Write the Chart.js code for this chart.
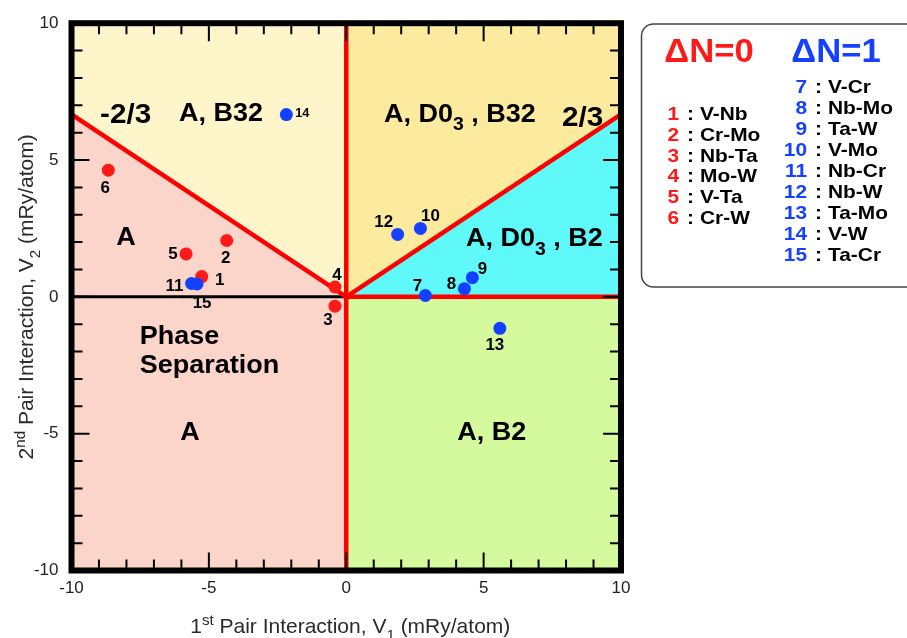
<!DOCTYPE html>
<html>
<head>
<meta charset="utf-8">
<script src="https://cdn.jsdelivr.net/npm/chart.js@4.4.1/dist/chart.umd.min.js"></script>
<style>
  html, body { margin: 0; padding: 0; background: #fff; }
  canvas { display: block; }
</style>
</head>
<body>
<canvas id="phaseMap" width="907" height="638"></canvas>
<script>
// ---- data: pair interactions (mRy/atom) of bcc binary alloys ----
// ΔN = 0 systems
const redIds   = ['1', '2', '3', '4', '5', '6'];
const redNames = ['V-Nb', 'Cr-Mo', 'Nb-Ta', 'Mo-W', 'V-Ta', 'Cr-W'];
const redV1    = [-5.26, -4.35, -0.41, -0.41, -5.83, -8.66];
const redV2    = [ 0.74,  2.06, -0.34,  0.36,  1.57,  4.63];

// ΔN = 1 systems
const blueIds   = ['7', '8', '9', '10', '11', '12', '13', '14', '15'];
const blueNames = ['V-Cr', 'Nb-Mo', 'Ta-W', 'V-Mo', 'Nb-Cr', 'Nb-W', 'Ta-Mo', 'V-W', 'Ta-Cr'];
const blueV1    = [2.88, 4.30, 4.59, 2.70, -5.63, 1.87, 5.59, -2.18, -5.43];
const blueV2    = [0.05, 0.30, 0.70, 2.50,  0.49, 2.28, -1.15, 6.66,  0.47];

// axis range and labelled ticks
const axisMin = -10, axisMax = 10;
const axisTicks = [-10, -5, 0, 5, 10];

// ground-state boundary slopes (V2 / V1)
const slopeLeft = -2 / 3;
const slopeRight = 2 / 3;

// ---- derived geometry (data space) ----
const yLeftEdge  = slopeLeft * axisMin;   // boundary height at V1 = -10
const yRightEdge = slopeRight * axisMax;  // boundary height at V1 = +10

const regions = [
  { color: '#fbd5ca', pts: [[axisMin, axisMin], [0, axisMin], [0, 0], [axisMin, yLeftEdge]] },
  { color: '#fef5cb', pts: [[axisMin, yLeftEdge], [0, 0], [0, axisMax], [axisMin, axisMax]] },
  { color: '#fcea9f', pts: [[0, 0], [axisMax, yRightEdge], [axisMax, axisMax], [0, axisMax]] },
  { color: '#5ff9f9', pts: [[0, 0], [axisMax, 0], [axisMax, yRightEdge]] },
  { color: '#d5fa9e', pts: [[0, axisMin], [axisMax, axisMin], [axisMax, 0], [0, 0]] }
];

const RED = '#ff1a1a';
const BLUE = '#1640ff';
const FONT = '"Liberation Sans", Arial, Helvetica, sans-serif';

// region captions: anchor in data space (cap-height centre), align
const regionLabels = [
  { parts: [['-2/3']], at: [-8.03, 6.70], size: 27, align: 'center', stretch: 1.1 },
  { parts: [['A, B32']], at: [-4.56, 6.77], size: 25, align: 'center', stretch: 1.08 },
  { parts: [['A, D0'], ['3', 'sub'], [' , B32']], at: [1.37, 6.71], size: 25, align: 'left', stretch: 1.08 },
  { parts: [['2/3']], at: [8.60, 6.60], size: 27, align: 'center', stretch: 1.1 },
  { parts: [['A']], at: [-8.02, 2.21], size: 25, align: 'center', stretch: 1.08 },
  { parts: [['A, D0'], ['3', 'sub'], [' , B2']], at: [4.36, 2.17], size: 25, align: 'left', stretch: 1.08 },
  { parts: [['Phase']], at: [-7.52, -1.41], size: 25, align: 'left', stretch: 1.08 },
  { parts: [['Separation']], at: [-7.52, -2.45], size: 25, align: 'left', stretch: 1.08 },
  { parts: [['A']], at: [-5.69, -4.91], size: 25, align: 'center', stretch: 1.08 },
  { parts: [['A, B2']], at: [5.30, -4.91], size: 25, align: 'center', stretch: 1.08 }
];

// placement of the number next to each marker (pixel offsets from the marker)
const idOffsets = {
  '1': [18, 3], '2': [-1, 17], '3': [-7, 13], '4': [2, -13], '5': [-13, -1], '6': [-3, 17],
  '7': [-8, -10], '8': [-13, -5], '9': [10, -9], '10': [10, -13], '11': [-17, 2],
  '12': [-14, -13], '13': [-5, 16], '14': [16, -2], '15': [5, 18]
};

const toXY = (xs, ys) => xs.map((v, i) => ({ x: v, y: ys[i] }));
const boundaryV1 = [axisMin, 0, axisMax];
const boundaryV2 = [yLeftEdge, 0, yRightEdge];

// text runs made of normal / sub / sup pieces, optionally widened horizontally
function richWidth(ctx, parts, size, weight) {
  let w = 0;
  parts.forEach(([t, kind]) => {
    const s = kind ? size * 0.72 : size;
    ctx.font = `${weight} ${s}px ${FONT}`;
    w += ctx.measureText(t).width;
  });
  return w;
}
function drawRich(ctx, parts, x, y, size, weight, align, stretch = 1) {
  const w = richWidth(ctx, parts, size, weight) * stretch;
  const x0 = align === 'center' ? x - w / 2 : (align === 'right' ? x - w : x);
  ctx.save();
  ctx.translate(x0, y);
  ctx.scale(stretch, 1);
  ctx.textAlign = 'left';
  ctx.textBaseline = 'alphabetic';
  let cx = 0;
  parts.forEach(([t, kind]) => {
    const s = kind ? size * 0.72 : size;
    ctx.font = `${weight} ${s}px ${FONT}`;
    const dy = kind === 'sub' ? size * 0.33 : (kind === 'sup' ? -size * 0.38 : 0);
    ctx.fillText(t, cx, dy);
    cx += ctx.measureText(t).width;
  });
  ctx.restore();
}

const phasePlugin = {
  id: 'phaseMap',
  beforeDatasetsDraw(chart) {
    const { ctx, scales: { x, y } } = chart;
    ctx.save();
    regions.forEach(r => {
      ctx.beginPath();
      r.pts.forEach(([a, b], i) => {
        const px = x.getPixelForValue(a), py = y.getPixelForValue(b);
        if (i) ctx.lineTo(px, py); else ctx.moveTo(px, py);
      });
      ctx.closePath();
      ctx.fillStyle = r.color;
      ctx.fill();
    });
    ctx.restore();
  },
  afterDatasetsDraw(chart) {
    const { ctx, chartArea: a, scales: { x, y } } = chart;
    ctx.save();

    // region captions
    ctx.fillStyle = '#000';
    regionLabels.forEach(l => {
      const px = x.getPixelForValue(l.at[0]);
      const py = y.getPixelForValue(l.at[1]) + l.size * 0.36;
      drawRich(ctx, l.parts, px, py, l.size, 'bold', l.align, l.stretch);
    });

    // marker numbers
    const drawIds = (ids, xs, ys) => {
      ids.forEach((id, i) => {
        const [dx, dy] = idOffsets[id];
        const size = id === '14' ? 12 : 16;
        ctx.fillStyle = '#000';
        drawRich(ctx, [[id]], x.getPixelForValue(xs[i]) + dx,
          y.getPixelForValue(ys[i]) + dy + size * 0.36, size, 'bold', 'center', 1.06);
      });
    };
    drawIds(redIds, redV1, redV2);
    drawIds(blueIds, blueV1, blueV2);

    // inward tick marks on all four sides
    ctx.strokeStyle = '#000';
    ctx.lineWidth = 2;
    for (let v = axisMin + 1; v < axisMax; v++) {
      const len = v % 5 === 0 ? 18 : 11;
      const px = x.getPixelForValue(v), py = y.getPixelForValue(v);
      ctx.beginPath();
      ctx.moveTo(px, a.bottom); ctx.lineTo(px, a.bottom - len);
      ctx.moveTo(px, a.top); ctx.lineTo(px, a.top + len);
      ctx.moveTo(a.left, py); ctx.lineTo(a.left + len, py);
      ctx.moveTo(a.right, py); ctx.lineTo(a.right - len, py);
      ctx.stroke();
    }

    // heavy frame
    ctx.lineWidth = 6;
    ctx.lineJoin = 'miter';
    ctx.strokeRect(a.left, a.top, a.right - a.left, a.bottom - a.top);
    ctx.restore();
  },
  afterDraw(chart) {
    const { ctx, chartArea: a } = chart;
    ctx.save();

    // axis titles
    ctx.fillStyle = '#2a2a2a';
    drawRich(ctx, [['1'], ['st', 'sup'], [' Pair Interaction, V'], ['1', 'sub'], [' (mRy/atom)']],
      (a.left + a.right) / 2 + 4, 633, 21, 'normal', 'center');
    ctx.save();
    ctx.translate(33, (a.top + a.bottom) / 2);
    ctx.rotate(-Math.PI / 2);
    drawRich(ctx, [['2'], ['nd', 'sup'], [' Pair Interaction, V'], ['2', 'sub'], [' (mRy/atom)']],
      0, 0, 21, 'normal', 'center');
    ctx.restore();

    // key box
    const bx = 641.5, by = 24, bw = 290, bh = 263, r = 12;
    ctx.beginPath();
    ctx.moveTo(bx + r, by);
    ctx.lineTo(bx + bw - r, by);
    ctx.arcTo(bx + bw, by, bx + bw, by + r, r);
    ctx.lineTo(bx + bw, by + bh - r);
    ctx.arcTo(bx + bw, by + bh, bx + bw - r, by + bh, r);
    ctx.lineTo(bx + r, by + bh);
    ctx.arcTo(bx, by + bh, bx, by + bh - r, r);
    ctx.lineTo(bx, by + r);
    ctx.arcTo(bx, by, bx + r, by, r);
    ctx.closePath();
    ctx.fillStyle = '#fff';
    ctx.fill();
    ctx.strokeStyle = '#444';
    ctx.lineWidth = 1.5;
    ctx.stroke();

    ctx.fillStyle = RED;
    drawRich(ctx, [['\u0394N=0']], 709, 62, 33, 'bold', 'center', 1.05);
    ctx.fillStyle = BLUE;
    drawRich(ctx, [['\u0394N=1']], 836, 62, 33, 'bold', 'center', 1.05);

    const drawKey = (ids, names, color, numRight, base0, step) => {
      ids.forEach((id, i) => {
        const yb = base0 + i * step;
        ctx.fillStyle = color;
        drawRich(ctx, [[id]], numRight, yb, 19, 'bold', 'right', 1.1);
        ctx.fillStyle = '#000';
        drawRich(ctx, [[':']], numRight + 8, yb, 19, 'bold', 'left', 1.1);
        drawRich(ctx, [[names[i]]], numRight + 21, yb, 19, 'bold', 'left', 1.1);
      });
    };
    drawKey(redIds, redNames, RED, 679, 120, 20.8);
    drawKey(blueIds, blueNames, BLUE, 807, 92.7, 21);
    ctx.restore();
  }
};

const tickFont = { family: FONT, size: 17 };

new Chart(document.getElementById('phaseMap'), {
  type: 'scatter',
  data: {
    datasets: [
      {
        label: '\u0394N=1',
        data: toXY(blueV1, blueV2),
        backgroundColor: BLUE,
        borderWidth: 0,
        pointRadius: 6.5,
        order: 0
      },
      {
        label: '\u0394N=0',
        data: toXY(redV1, redV2),
        backgroundColor: RED,
        borderWidth: 0,
        pointRadius: 6.5,
        order: 1
      },
      {
        label: 'boundary',
        data: toXY(boundaryV1, boundaryV2),
        showLine: true,
        borderColor: '#ff0000',
        borderWidth: 4.5,
        pointRadius: 0,
        fill: false,
        order: 2
      },
      {
        label: 'V1 = 0',
        data: [{ x: 0, y: axisMin }, { x: 0, y: axisMax }],
        showLine: true,
        borderColor: '#ff0000',
        borderWidth: 4.5,
        pointRadius: 0,
        fill: false,
        order: 2
      },
      {
        label: 'V2 = 0, V1 > 0',
        data: [{ x: 0, y: 0 }, { x: axisMax, y: 0 }],
        showLine: true,
        borderColor: '#ff0000',
        borderWidth: 4.5,
        pointRadius: 0,
        fill: false,
        order: 2
      },
      {
        label: 'V2 = 0, V1 < 0',
        data: [{ x: axisMin, y: 0 }, { x: 0, y: 0 }],
        showLine: true,
        borderColor: '#000',
        borderWidth: 3,
        pointRadius: 0,
        fill: false,
        order: 3
      }
    ]
  },
  options: {
    responsive: false,
    animation: false,
    devicePixelRatio: 1,
    layout: { padding: { left: 0, top: 22, right: 286, bottom: 0 } },
    plugins: { legend: { display: false }, tooltip: { enabled: false } },
    scales: {
      x: {
        type: 'linear',
        min: axisMin, max: axisMax,
        afterBuildTicks: s => { s.ticks = axisTicks.map(v => ({ value: v })); },
        ticks: { font: tickFont, color: '#222', padding: 8, maxRotation: 0 },
        grid: { display: false, drawTicks: false },
        border: { display: false },
        afterFit: s => { s.height = 67.5; }
      },
      y: {
        type: 'linear',
        min: axisMin, max: axisMax,
        afterBuildTicks: s => { s.ticks = axisTicks.map(v => ({ value: v })); },
        ticks: { font: tickFont, color: '#222', padding: 13 },
        grid: { display: false, drawTicks: false },
        border: { display: false },
        afterFit: s => { s.width = 71.5; }
      }
    }
  },
  plugins: [phasePlugin]
});
</script>
</body>
</html>
